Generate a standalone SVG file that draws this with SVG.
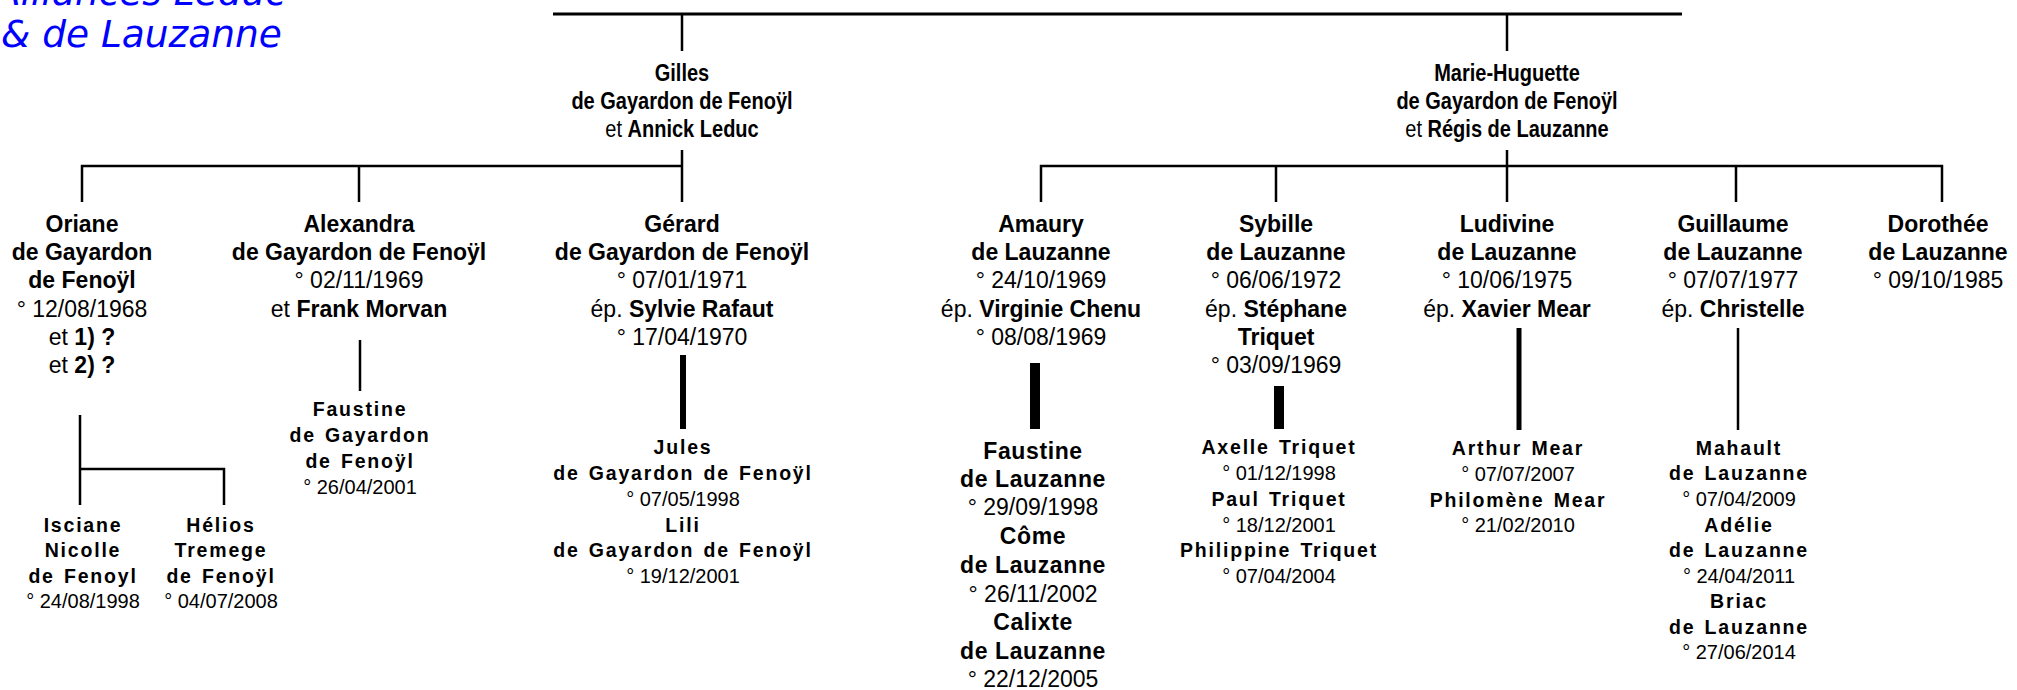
<svg xmlns="http://www.w3.org/2000/svg" width="2017" height="690" viewBox="0 0 2017 690">
<style>
text{font-family:"Liberation Sans",Arial,sans-serif;fill:#000;text-anchor:middle}
.b{font-weight:bold;font-size:23px}
.r{font-size:23px}
.gb{font-weight:bold;font-size:19.5px;letter-spacing:1.8px;word-spacing:2px}
.gr{font-size:20px}
.fb{font-weight:bold;font-size:23px;letter-spacing:0.6px}
.title{font-family:"DejaVu Sans",sans-serif;font-style:oblique;font-size:37.5px;fill:#0000ff;text-anchor:start}
.ln{stroke:#000;stroke-width:2.5;fill:none}
.top{stroke:#000;stroke-width:3;fill:none}
</style>
<rect width="2017" height="690" fill="#fff"/>
<g id="title">
<text class="title" x="-5" y="5">Alliances Leduc</text>
<text class="title" x="1" y="47">&amp; de Lauzanne</text>
</g>
<g id="connectors">
<path class="top" d="M553 14H1682"/>
<path class="ln" d="M682 14V51M1507 14V51"/>
<path class="ln" d="M682 150V166M82 202V166H682V202M359 166V202"/>
<path class="ln" d="M1507 150V166M1041 202V166H1942V202M1276 166V202M1507 166V202M1736 166V202"/>
<path class="ln" d="M360 340V391"/>
<path class="ln" d="M80 415V505M80 469H224V505"/>
<path class="ln" d="M1738 328V430"/>
<path d="M683 355V429" stroke="#000" stroke-width="6"/>
<path d="M1035 363V429" stroke="#000" stroke-width="10"/>
<path d="M1279 386V429" stroke="#000" stroke-width="10"/>
<path d="M1519 328V430" stroke="#000" stroke-width="5"/>
</g>
<g id="gilles" transform="translate(682 0) scale(0.87 1) translate(-682 0)">
<text class="b" x="682" y="81">Gilles</text>
<text class="b" x="682" y="109">de Gayardon de Fenoÿl</text>
<text class="r" x="682" y="137">et <tspan font-weight="bold">Annick Leduc</tspan></text>
</g>
<g id="marie-huguette" transform="translate(1507 0) scale(0.87 1) translate(-1507 0)">
<text class="b" x="1507" y="81">Marie-Huguette</text>
<text class="b" x="1507" y="109">de Gayardon de Fenoÿl</text>
<text class="r" x="1507" y="137">et <tspan font-weight="bold">Régis de Lauzanne</tspan></text>
</g>
<g id="oriane" xml:space="preserve">
<text class="b" x="82" y="232">Oriane</text>
<text class="b" x="82" y="260">de Gayardon</text>
<text class="b" x="82" y="288">de Fenoÿl</text>
<text class="r" x="82" y="317">°  12/08/1968</text>
<text class="r" x="82" y="345">et <tspan font-weight="bold">1) ?</tspan></text>
<text class="r" x="82" y="373">et <tspan font-weight="bold">2) ?</tspan></text>
</g>
<g id="alexandra" xml:space="preserve">
<text class="b" x="359" y="232">Alexandra</text>
<text class="b" x="359" y="260">de Gayardon de Fenoÿl</text>
<text class="r" x="359" y="288">°  02/11/1969</text>
<text class="r" x="359" y="317">et <tspan font-weight="bold">Frank Morvan</tspan></text>
</g>
<g id="gerard" xml:space="preserve">
<text class="b" x="682" y="232">Gérard</text>
<text class="b" x="682" y="260">de Gayardon de Fenoÿl</text>
<text class="r" x="682" y="288">°  07/01/1971</text>
<text class="r" x="682" y="317">ép. <tspan font-weight="bold">Sylvie Rafaut</tspan></text>
<text class="r" x="682" y="345">°  17/04/1970</text>
</g>
<g id="isciane">
<text class="gb" x="83" y="532">Isciane</text>
<text class="gb" x="83" y="557">Nicolle</text>
<text class="gb" x="83" y="583">de Fenoyl</text>
<text class="gr" x="83" y="608">° 24/08/1998</text>
</g>
<g id="helios">
<text class="gb" x="221" y="532">Hélios</text>
<text class="gb" x="221" y="557">Tremege</text>
<text class="gb" x="221" y="583">de Fenoÿl</text>
<text class="gr" x="221" y="608">° 04/07/2008</text>
</g>
<g id="faustine-g">
<text class="gb" x="360" y="416">Faustine</text>
<text class="gb" x="360" y="442">de Gayardon</text>
<text class="gb" x="360" y="468">de Fenoÿl</text>
<text class="gr" x="360" y="494">° 26/04/2001</text>
</g>
<g id="jules-lili">
<text class="gb" x="683" y="454">Jules</text>
<text class="gb" x="683" y="480">de Gayardon de Fenoÿl</text>
<text class="gr" x="683" y="506">° 07/05/1998</text>
<text class="gb" x="683" y="532">Lili</text>
<text class="gb" x="683" y="557">de Gayardon de Fenoÿl</text>
<text class="gr" x="683" y="583">° 19/12/2001</text>
</g>
<g id="amaury" xml:space="preserve">
<text class="b" x="1041" y="232">Amaury</text>
<text class="b" x="1041" y="260">de Lauzanne</text>
<text class="r" x="1041" y="288">°  24/10/1969</text>
<text class="r" x="1041" y="317">ép. <tspan font-weight="bold">Virginie Chenu</tspan></text>
<text class="r" x="1041" y="345">°  08/08/1969</text>
</g>
<g id="sybille" xml:space="preserve">
<text class="b" x="1276" y="232">Sybille</text>
<text class="b" x="1276" y="260">de Lauzanne</text>
<text class="r" x="1276" y="288">°  06/06/1972</text>
<text class="r" x="1276" y="317">ép. <tspan font-weight="bold">Stéphane</tspan></text>
<text class="b" x="1276" y="345">Triquet</text>
<text class="r" x="1276" y="373">°  03/09/1969</text>
</g>
<g id="ludivine" xml:space="preserve">
<text class="b" x="1507" y="232">Ludivine</text>
<text class="b" x="1507" y="260">de Lauzanne</text>
<text class="r" x="1507" y="288">°  10/06/1975</text>
<text class="r" x="1507" y="317">ép. <tspan font-weight="bold">Xavier Mear</tspan></text>
</g>
<g id="guillaume" xml:space="preserve">
<text class="b" x="1733" y="232">Guillaume</text>
<text class="b" x="1733" y="260">de Lauzanne</text>
<text class="r" x="1733" y="288">°  07/07/1977</text>
<text class="r" x="1733" y="317">ép. <tspan font-weight="bold">Christelle</tspan></text>
</g>
<g id="dorothee" xml:space="preserve">
<text class="b" x="1938" y="232">Dorothée</text>
<text class="b" x="1938" y="260">de Lauzanne</text>
<text class="r" x="1938" y="288">°  09/10/1985</text>
</g>
<g id="faustine-l" xml:space="preserve">
<text class="fb" x="1033" y="459">Faustine</text>
<text class="fb" x="1033" y="487">de Lauzanne</text>
<text class="r" x="1033" y="515">°  29/09/1998</text>
<text class="fb" x="1033" y="544">Côme</text>
<text class="fb" x="1033" y="573">de Lauzanne</text>
<text class="r" x="1033" y="602">°  26/11/2002</text>
<text class="fb" x="1033" y="630">Calixte</text>
<text class="fb" x="1033" y="659">de Lauzanne</text>
<text class="r" x="1033" y="687">°  22/12/2005</text>
</g>
<g id="triquet">
<text class="gb" x="1279" y="454">Axelle Triquet</text>
<text class="gr" x="1279" y="480">° 01/12/1998</text>
<text class="gb" x="1279" y="506">Paul Triquet</text>
<text class="gr" x="1279" y="532">° 18/12/2001</text>
<text class="gb" x="1279" y="557">Philippine Triquet</text>
<text class="gr" x="1279" y="583">° 07/04/2004</text>
</g>
<g id="mear">
<text class="gb" x="1518" y="455">Arthur Mear</text>
<text class="gr" x="1518" y="481">° 07/07/2007</text>
<text class="gb" x="1518" y="507">Philomène Mear</text>
<text class="gr" x="1518" y="532">° 21/02/2010</text>
</g>
<g id="mahault">
<text class="gb" x="1739" y="455">Mahault</text>
<text class="gb" x="1739" y="480">de Lauzanne</text>
<text class="gr" x="1739" y="506">° 07/04/2009</text>
<text class="gb" x="1739" y="532">Adélie</text>
<text class="gb" x="1739" y="557">de Lauzanne</text>
<text class="gr" x="1739" y="583">° 24/04/2011</text>
<text class="gb" x="1739" y="608">Briac</text>
<text class="gb" x="1739" y="634">de Lauzanne</text>
<text class="gr" x="1739" y="659">° 27/06/2014</text>
</g>
</svg>
